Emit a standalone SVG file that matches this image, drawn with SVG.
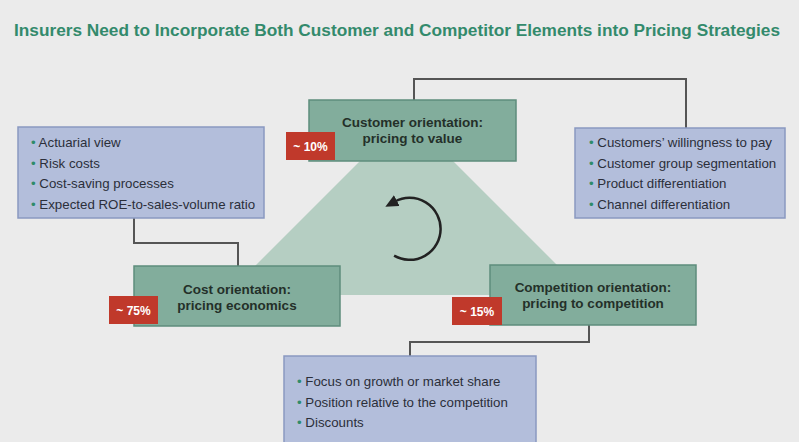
<svg xmlns="http://www.w3.org/2000/svg" width="799" height="442" viewBox="0 0 799 442">
<style>
.title{font-family:"Liberation Sans",Arial,sans-serif;font-weight:bold;font-size:16px;fill:#338a6c}
.gbox{fill:#82ad9c;stroke:#5e8d7c;stroke-width:1.5}
.bbox{fill:#b3bedb;stroke:#8a99c1;stroke-width:1.5}
.badge{fill:#c0392b}
.btxt{font-family:"Liberation Sans",Arial,sans-serif;font-weight:bold;font-size:12px;fill:#ffffff;text-anchor:middle}
.head{font-family:"Liberation Sans",Arial,sans-serif;font-weight:bold;font-size:13.5px;fill:#243029;text-anchor:middle}
.item{font-family:"Liberation Sans",Arial,sans-serif;font-size:13.3px;fill:#2b2f3a}
.dot{fill:#2e8b6a}
.conn{fill:none;stroke:#555555;stroke-width:2}
</style>
<defs>
<marker id="ah" markerWidth="13" markerHeight="12" refX="2" refY="6" orient="auto" markerUnits="userSpaceOnUse">
<path d="M0,0 L13,6 L0,12 Z" fill="#222222"/>
</marker>
</defs>
<rect x="0" y="0" width="799" height="442" fill="#ebebeb"/>
<text class="title" x="14" y="36" textLength="766" lengthAdjust="spacingAndGlyphs">Insurers Need to Incorporate Both Customer and Competitor Elements into Pricing Strategies</text>

<g id="cycle">
<polygon points="360,161 453,161 587,295 226,295" fill="#b5cec2"/>
<path d="M394.1,255.7 A31,31 0 1 0 395,201.5" fill="none" stroke="#222222" stroke-width="2.5" marker-end="url(#ah)"/>
</g>

<g id="connectors">
<polyline class="conn" points="414,100 414,79 686,79 686,128"/>
<polyline class="conn" points="134,218 134,243 238,243 238,266"/>
<polyline class="conn" points="589,325 589,342 410,342 410,356"/>
</g>

<g id="customer">
<rect class="gbox" x="309" y="100" width="207" height="61"/>
<text class="head" x="412.5" y="127">Customer orientation:</text>
<text class="head" x="412.5" y="143">pricing to value</text>
<rect class="badge" x="286" y="132" width="49" height="28"/>
<text class="btxt" x="310.5" y="150.5">~ 10%</text>
</g>

<g id="cost">
<rect class="gbox" x="134" y="266" width="206" height="60"/>
<text class="head" x="237" y="294">Cost orientation:</text>
<text class="head" x="237" y="310">pricing economics</text>
<rect class="badge" x="109" y="296" width="49" height="28"/>
<text class="btxt" x="133.5" y="314.5">~ 75%</text>
</g>

<g id="competition">
<rect class="gbox" x="490" y="265" width="206" height="60"/>
<text class="head" x="593" y="292">Competition orientation:</text>
<text class="head" x="593" y="308">pricing to competition</text>
<rect class="badge" x="452" y="297" width="50" height="28"/>
<text class="btxt" x="477" y="315.5">~ 15%</text>
</g>

<g id="cost-factors">
<rect class="bbox" x="18" y="127" width="246" height="91"/>
<text class="item" x="31" y="147"><tspan class="dot">•</tspan> Actuarial view</text>
<text class="item" x="31" y="167.5"><tspan class="dot">•</tspan> Risk costs</text>
<text class="item" x="31" y="188"><tspan class="dot">•</tspan> Cost-saving processes</text>
<text class="item" x="31" y="208.5"><tspan class="dot">•</tspan> Expected ROE-to-sales-volume ratio</text>
</g>

<g id="customer-factors">
<rect class="bbox" x="575" y="128" width="210" height="90"/>
<text class="item" x="589" y="147"><tspan class="dot">•</tspan> Customers’ willingness to pay</text>
<text class="item" x="589" y="167.5"><tspan class="dot">•</tspan> Customer group segmentation</text>
<text class="item" x="589" y="188"><tspan class="dot">•</tspan> Product differentiation</text>
<text class="item" x="589" y="208.5"><tspan class="dot">•</tspan> Channel differentiation</text>
</g>

<g id="competition-factors">
<rect class="bbox" x="284" y="356" width="252" height="100"/>
<text class="item" x="297" y="386"><tspan class="dot">•</tspan> Focus on growth or market share</text>
<text class="item" x="297" y="406.5"><tspan class="dot">•</tspan> Position relative to the competition</text>
<text class="item" x="297" y="427"><tspan class="dot">•</tspan> Discounts</text>
</g>
</svg>
